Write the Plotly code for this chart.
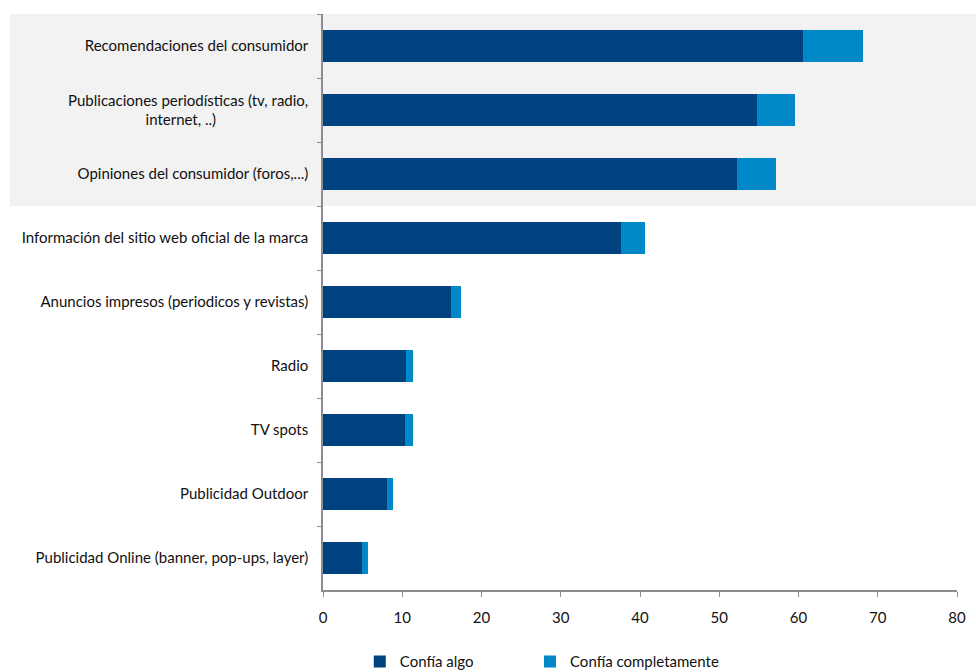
import plotly.graph_objects as go

NBSP = "\u00a0"
categories = [
    "Recomendaciones del consumidor",
    "Publicaciones periodísticas (tv, radio,<br>internet, ..)" + NBSP * 24,
    "Opiniones del consumidor (foros,...)",
    "Información del sitio web oficial de la marca",
    "Anuncios impresos (periodicos y revistas)",
    "Radio",
    "TV spots",
    "Publicidad Outdoor",
    "Publicidad Online (banner, pop-ups, layer)",
]
confia_algo = [60.6, 54.8, 52.3, 37.6, 16.1, 10.5, 10.3, 8.1, 4.9]
confia_completamente = [7.5, 4.7, 4.8, 3.0, 1.3, 0.8, 1.1, 0.7, 0.8]
x_ticks = [0, 10, 20, 30, 40, 50, 60, 70, 80]

FONT = "Lato, 'Open Sans', sans-serif"

fig = go.Figure()
fig.add_trace(go.Bar(y=categories, x=confia_algo, orientation="h", name="Confía algo",
                     marker=dict(color="#00417f", line=dict(width=0)), legend="legend"))
fig.add_trace(go.Bar(y=categories, x=confia_completamente, orientation="h", name="Confía completamente",
                     marker=dict(color="#0088c9", line=dict(width=0)), legend="legend2"))

fig.add_shape(type="rect", xref="paper", yref="paper",
              x0=(10 - 323) / 634, x1=(976 - 323) / 634, y0=6 / 9, y1=1.0,
              fillcolor="#f2f2f2", line=dict(width=0), layer="below")

leg_common = dict(orientation="h", xanchor="left", y=-0.153, yanchor="bottom",
                  font=dict(size=15, color="#111111"), bgcolor="rgba(0,0,0,0)",
                  itemclick=False)

fig.update_layout(
    width=976, height=672,
    margin=dict(l=323, r=19, t=14, b=82, autoexpand=False),
    barmode="stack", bargap=0.5,
    paper_bgcolor="white", plot_bgcolor="rgba(0,0,0,0)",
    font=dict(family=FONT, size=15, color="#111111"),
    showlegend=True,
    legend=dict(x=0.058, **leg_common),
    legend2=dict(x=0.3265, **leg_common),
)
fig.update_yaxes(categoryorder="array", categoryarray=categories, autorange="reversed",
                 showline=True, linecolor="#8c8c8c", linewidth=1.5,
                 ticks="outside", tickson="boundaries", ticklen=4, tickcolor="#8c8c8c",
                 showgrid=False, zeroline=False, ticklabelstandoff=10)
fig.update_xaxes(range=[0, 80], tickvals=x_ticks, ticktext=[str(v) for v in x_ticks],
                 showline=True, linecolor="#8c8c8c", linewidth=1.5,
                 ticks="outside", ticklen=5, tickcolor="#8c8c8c",
                 showgrid=False, zeroline=False, ticklabelstandoff=8,
                 tickfont=dict(size=15))

fig.write_html("out.html")
